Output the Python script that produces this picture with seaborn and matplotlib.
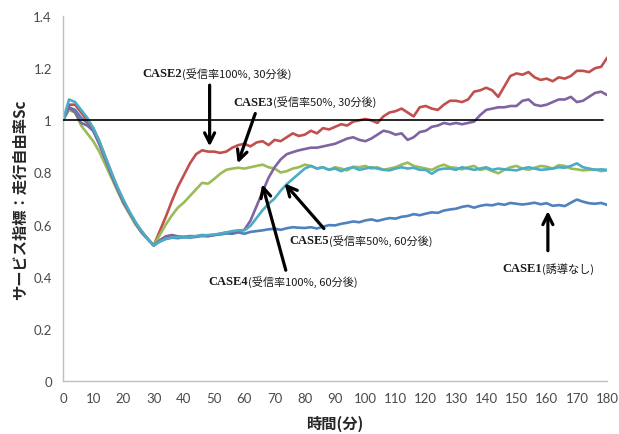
import matplotlib
matplotlib.use("Agg")
import matplotlib.pyplot as plt
import seaborn as sns
import pandas as pd

minutes = list(range(0, 181, 2))

case1 = [1.00, 1.05, 1.04, 1.01, 0.99, 0.96, 0.91, 0.85, 0.79, 0.735, 0.685, 0.645, 0.605, 0.57, 0.545,
         0.52, 0.535, 0.545, 0.55, 0.548, 0.552, 0.55, 0.553, 0.556, 0.555, 0.56, 0.562, 0.566, 0.565, 0.57,
         0.565, 0.572, 0.575, 0.578, 0.582, 0.584, 0.58, 0.586, 0.59, 0.588, 0.587, 0.59, 0.585, 0.592, 0.598,
         0.597, 0.603, 0.607, 0.612, 0.609, 0.616, 0.62, 0.614, 0.62, 0.625, 0.623, 0.63, 0.633, 0.64, 0.636,
         0.642, 0.647, 0.645, 0.654, 0.658, 0.661, 0.668, 0.672, 0.665, 0.672, 0.676, 0.674, 0.68, 0.676, 0.683,
         0.68, 0.677, 0.68, 0.684, 0.678, 0.682, 0.672, 0.675, 0.671, 0.684, 0.696, 0.688, 0.682, 0.68, 0.683,
         0.676]
case2 = [1.00, 1.06, 1.06, 1.03, 1.00, 0.97, 0.92, 0.86, 0.80, 0.74, 0.69, 0.645, 0.605, 0.575, 0.545,
         0.52, 0.575, 0.63, 0.69, 0.745, 0.79, 0.835, 0.87, 0.885, 0.88, 0.88, 0.875, 0.88, 0.895, 0.905,
         0.91, 0.90, 0.915, 0.92, 0.905, 0.925, 0.92, 0.935, 0.95, 0.94, 0.945, 0.96, 0.95, 0.97, 0.965,
         0.975, 0.985, 0.98, 0.995, 1.00, 1.005, 1.00, 0.99, 1.015, 1.03, 1.035, 1.045, 1.03, 1.015, 1.05,
         1.055, 1.045, 1.04, 1.06, 1.075, 1.075, 1.07, 1.08, 1.11, 1.115, 1.125, 1.115, 1.09, 1.13, 1.17,
         1.18, 1.175, 1.185, 1.165, 1.155, 1.16, 1.15, 1.165, 1.16, 1.17, 1.19, 1.19, 1.185, 1.20, 1.205,
         1.24]
case3 = [1.00, 1.04, 1.03, 0.98, 0.95, 0.92, 0.88, 0.83, 0.78, 0.73, 0.68, 0.64, 0.60, 0.57, 0.545,
         0.52, 0.56, 0.60, 0.635, 0.665, 0.685, 0.71, 0.735, 0.76, 0.757, 0.775, 0.795, 0.81, 0.815, 0.818,
         0.815, 0.82, 0.825, 0.83, 0.82, 0.815, 0.80, 0.805, 0.815, 0.82, 0.83, 0.825, 0.815, 0.82, 0.81,
         0.82, 0.815, 0.808, 0.822, 0.82, 0.825, 0.815, 0.82, 0.81, 0.815, 0.82, 0.83, 0.838, 0.825, 0.82,
         0.815, 0.81, 0.822, 0.83, 0.82, 0.818, 0.812, 0.82, 0.825, 0.81, 0.815, 0.805, 0.797, 0.81, 0.82,
         0.825, 0.815, 0.81, 0.818, 0.825, 0.822, 0.815, 0.828, 0.825, 0.815, 0.812, 0.808, 0.81, 0.812, 0.805,
         0.808]
case4 = [1.00, 1.05, 1.03, 0.99, 0.98, 0.96, 0.91, 0.85, 0.79, 0.735, 0.685, 0.645, 0.605, 0.57, 0.545,
         0.52, 0.54, 0.555, 0.56, 0.555, 0.553, 0.556, 0.555, 0.56, 0.558, 0.56, 0.565, 0.57, 0.568, 0.575,
         0.58, 0.615, 0.67, 0.725, 0.78, 0.82, 0.85, 0.87, 0.878, 0.885, 0.89, 0.895, 0.895, 0.90, 0.905,
         0.91, 0.92, 0.93, 0.935, 0.925, 0.92, 0.93, 0.945, 0.96, 0.955, 0.945, 0.95, 0.925, 0.935, 0.955,
         0.96, 0.975, 0.98, 0.99, 0.985, 0.99, 0.985, 0.99, 0.995, 1.02, 1.04, 1.045, 1.05, 1.05, 1.055,
         1.055, 1.075, 1.08, 1.06, 1.055, 1.06, 1.07, 1.08, 1.08, 1.09, 1.07, 1.075, 1.09, 1.105, 1.11,
         1.097]
case5 = [1.00, 1.08, 1.07, 1.04, 1.01, 0.97, 0.92, 0.86, 0.80, 0.745, 0.695, 0.65, 0.61, 0.575, 0.545,
         0.52, 0.535, 0.545, 0.55, 0.552, 0.55, 0.553, 0.556, 0.558, 0.56, 0.562, 0.565, 0.57, 0.575, 0.578,
         0.578, 0.595, 0.625, 0.655, 0.68, 0.70, 0.73, 0.755, 0.775, 0.795, 0.815, 0.825, 0.815, 0.82, 0.81,
         0.815, 0.805, 0.815, 0.82, 0.81, 0.815, 0.82, 0.815, 0.81, 0.808, 0.815, 0.82, 0.815, 0.818, 0.81,
         0.81, 0.795, 0.81, 0.815, 0.815, 0.81, 0.82, 0.815, 0.81, 0.815, 0.82, 0.81, 0.815, 0.812, 0.81,
         0.808, 0.815, 0.82, 0.815, 0.81, 0.812, 0.815, 0.82, 0.818, 0.825, 0.835, 0.82, 0.815, 0.81, 0.812,
         0.81]

series_names = ["CASE1", "CASE2", "CASE3", "CASE4", "CASE5"]
series_colors = ["#4F81BD", "#C0504D", "#9BBB59", "#8064A2", "#4BACC6"]

reference_value = 1.0
y_ticks = [0, 0.2, 0.4, 0.6, 0.8, 1.0, 1.2, 1.4]
y_tick_labels = ["0", "0.2", "0.4", "0.6", "0.8", "1", "1.2", "1.4"]
x_ticks = list(range(0, 181, 10))

x_label = "時間(分)"
y_label = "サービス指標：走行自由率Sc"

annotation_heads = ["CASE1", "CASE2", "CASE3", "CASE4", "CASE5"]
annotation_tails = ["(誘導なし)", "(受信率100%, 30分後)", "(受信率50%, 30分後)",
                    "(受信率100%, 60分後)", "(受信率50%, 60分後)"]
annotation_anchor = [(158.3, 0.435), (39.5, 1.18), (69.4, 1.072), (61.1, 0.385), (88.1, 0.542)]
annotation_arrow_start = [(160.4, 0.50), (48.5, 1.135), (63.6, 1.026), (73.7, 0.425), (86.3, 0.585)]
annotation_arrow_tip = [(160.4, 0.652), (48.5, 0.90), (57.8, 0.835), (65.9, 0.755), (73.3, 0.758)]

frames = []
for name, vals in zip(series_names, [case1, case2, case3, case4, case5]):
    frames.append(pd.DataFrame({"minute": minutes, "value": vals, "case": name}))
df = pd.concat(frames, ignore_index=True)

sns.set_theme(style="white")
plt.rcParams["font.family"] = ["Lato", "Noto Sans CJK JP", "DejaVu Sans"]

fig = plt.figure(figsize=(6.19, 4.35), dpi=100)
ax = fig.add_axes([0.1018, 0.1218, 0.879, 0.839])

sns.lineplot(data=df, x="minute", y="value", hue="case", hue_order=series_names,
             palette=dict(zip(series_names, series_colors)), linewidth=1.9,
             legend=False, ax=ax)

ax.axhline(reference_value, xmin=0, xmax=0.993, color="black", lw=1.2, zorder=5)

ax.set_xlim(0, 180)
ax.set_ylim(0, 1.4)
ax.set_xticks(x_ticks)
ax.set_xticklabels([str(t) for t in x_ticks])
ax.set_yticks(y_ticks)
ax.set_yticklabels(y_tick_labels)
ax.tick_params(axis="both", length=0, labelsize=9.5, colors="#4a4a4a", pad=8)
for s in ["top", "right"]:
    ax.spines[s].set_visible(False)
for s in ["left", "bottom"]:
    ax.spines[s].set_color("#BFBFBF")
    ax.spines[s].set_linewidth(1.0)

ax.set_xlabel(x_label, fontsize=11, fontweight="bold", family=["Noto Sans CJK JP", "DejaVu Sans"], labelpad=8)
ax.set_ylabel(y_label, fontsize=11, fontweight="bold", family=["Noto Sans CJK JP", "DejaVu Sans"], labelpad=4)

for head, tail, tp, a0, a1 in zip(annotation_heads, annotation_tails, annotation_anchor,
                                  annotation_arrow_start, annotation_arrow_tip):
    ax.text(tp[0], tp[1], head, ha="right", va="center", fontsize=9, fontweight="bold",
            family=["Liberation Serif"], color="#1a1a1a", zorder=6)
    ax.text(tp[0], tp[1], tail, ha="left", va="center", fontsize=8,
            family=["Noto Sans CJK JP", "DejaVu Sans"], color="#1a1a1a", zorder=6)
    ax.annotate("", xy=a1, xytext=a0,
                arrowprops=dict(arrowstyle="->", color="black", lw=2.3, mutation_scale=18,
                                shrinkA=0, shrinkB=0), zorder=6)

fig.savefig("out.png", dpi=100)
